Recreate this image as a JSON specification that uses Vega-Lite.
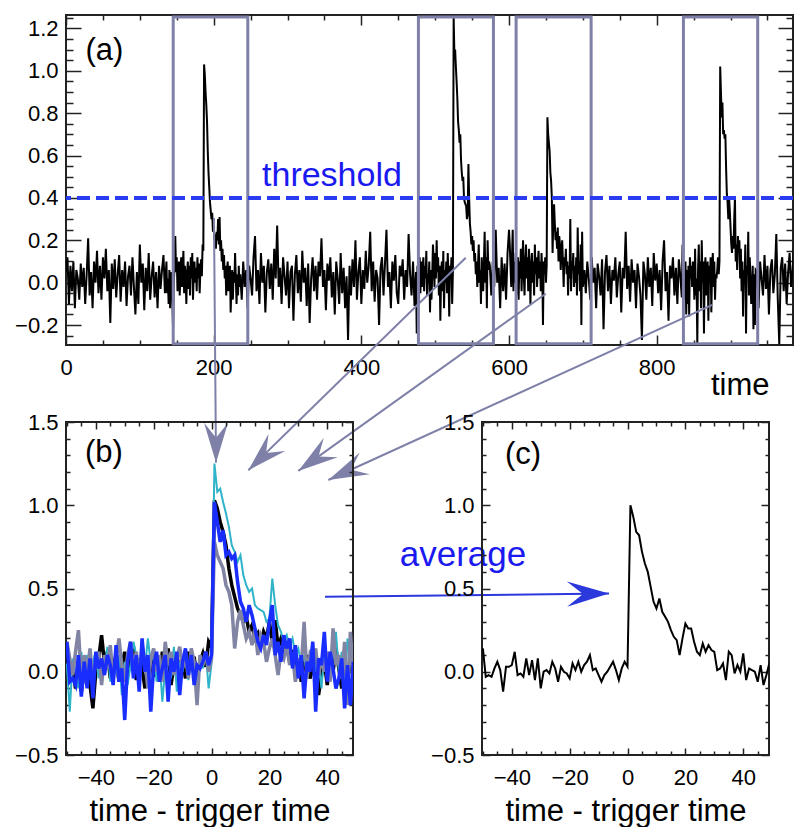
{
  "background": "white",
  "padding": {"left": 13, "top": 5, "right": 0, "bottom": 0},
  "autosize": {"type": "pad"},
  "config": {
    "font": "Liberation Sans",
    "view": {"stroke": "#222222", "strokeWidth": 2},
    "axis": {"domain": false, "grid": false, "labelFont": "Liberation Sans", "labelFontSize": 22, "labelColor": "#000000", "tickColor": "#222222", "tickWidth": 1.5, "titleFont": "Liberation Sans", "titleFontSize": 31, "titleFontWeight": "normal", "titleColor": "#000000", "labelFlush": false, "labelOverlap": false, "labelBound": false}
  },
  "datasets": {
    "series": [
      {"t":0,"v":0.05},{"t":2,"v":0.12},{"t":4,"v":-0.10},{"t":6,"v":0.08},{"t":8,"v":-0.04},{"t":10,"v":0.10},{"t":12,"v":-0.12},{"t":14,"v":0.06},{"t":16,"v":0.02},{"t":18,"v":-0.08},{"t":20,"v":0.09},{"t":22,"v":-0.02},{"t":24,"v":0.07},{"t":26,"v":-0.10},{"t":28,"v":0.04},{"t":30,"v":0.21},{"t":32,"v":-0.06},{"t":34,"v":0.05},{"t":36,"v":-0.12},{"t":38,"v":0.10},{"t":40,"v":0.00},{"t":42,"v":0.15},{"t":44,"v":-0.05},{"t":46,"v":0.08},{"t":48,"v":-0.08},{"t":50,"v":0.12},{"t":52,"v":0.02},{"t":54,"v":0.16},{"t":56,"v":-0.04},{"t":58,"v":0.06},{"t":60,"v":-0.19},{"t":62,"v":0.09},{"t":64,"v":-0.03},{"t":66,"v":0.11},{"t":68,"v":-0.07},{"t":70,"v":0.04},{"t":72,"v":0.13},{"t":74,"v":-0.09},{"t":76,"v":0.06},{"t":78,"v":-0.02},{"t":80,"v":0.10},{"t":82,"v":-0.11},{"t":84,"v":0.03},{"t":86,"v":0.08},{"t":88,"v":-0.06},{"t":90,"v":0.12},{"t":92,"v":-0.02},{"t":94,"v":-0.15},{"t":96,"v":0.05},{"t":98,"v":-0.10},{"t":100,"v":0.18},{"t":102,"v":0.00},{"t":104,"v":0.09},{"t":106,"v":-0.13},{"t":108,"v":0.07},{"t":110,"v":-0.04},{"t":112,"v":0.14},{"t":114,"v":-0.08},{"t":116,"v":0.03},{"t":118,"v":0.10},{"t":120,"v":-0.07},{"t":122,"v":0.05},{"t":124,"v":-0.12},{"t":126,"v":0.08},{"t":128,"v":-0.03},{"t":130,"v":0.06},{"t":132,"v":0.13},{"t":134,"v":-0.05},
      {"t":136,"d":-50,"s":"k","v":0.10},{"t":137,"d":-49,"s":"k","v":-0.05},{"t":138,"d":-48,"s":"k","v":0.02},{"t":139,"d":-47,"s":"k","v":-0.10},{"t":140,"d":-46,"s":"k","v":0.06},{"t":141,"d":-45,"s":"k","v":-0.12},{"t":142,"d":-44,"s":"k","v":0.00},{"t":143,"d":-43,"s":"k","v":0.05},{"t":144,"d":-42,"s":"k","v":-0.08},{"t":145,"d":-41,"s":"k","v":-0.22},
      {"t":146,"d":-40,"s":"k","v":0.00},{"t":147,"d":-39,"s":"k","v":0.08},{"t":148,"d":-38,"s":"k","v":0.22},{"t":149,"d":-37,"s":"k","v":0.05},{"t":150,"d":-36,"s":"k","v":0.12},{"t":151,"d":-35,"s":"k","v":-0.04},{"t":152,"d":-34,"s":"k","v":0.03},{"t":153,"d":-33,"s":"k","v":0.10},{"t":154,"d":-32,"s":"k","v":-0.06},{"t":155,"d":-31,"s":"k","v":0.04},
      {"t":156,"d":-30,"s":"k","v":0.12},{"t":157,"d":-29,"s":"k","v":-0.02},{"t":158,"d":-28,"s":"k","v":0.06},{"t":159,"d":-27,"s":"k","v":0.15},{"t":160,"d":-26,"s":"k","v":-0.05},{"t":161,"d":-25,"s":"k","v":0.08},{"t":162,"d":-24,"s":"k","v":0.02},{"t":163,"d":-23,"s":"k","v":-0.10},{"t":164,"d":-22,"s":"k","v":0.05},{"t":165,"d":-21,"s":"k","v":0.10},
      {"t":166,"d":-20,"s":"k","v":-0.03},{"t":167,"d":-19,"s":"k","v":0.08},{"t":168,"d":-18,"s":"k","v":-0.06},{"t":169,"d":-17,"s":"k","v":0.12},{"t":170,"d":-16,"s":"k","v":0.02},{"t":171,"d":-15,"s":"k","v":0.14},{"t":172,"d":-14,"s":"k","v":-0.08},{"t":173,"d":-13,"s":"k","v":0.04},{"t":174,"d":-12,"s":"k","v":0.10},{"t":175,"d":-11,"s":"k","v":0.00},
      {"t":176,"d":-10,"s":"k","v":0.07},{"t":177,"d":-9,"s":"k","v":-0.04},{"t":178,"d":-8,"s":"k","v":0.12},{"t":179,"d":-7,"s":"k","v":0.02},{"t":180,"d":-6,"s":"k","v":0.09},{"t":181,"d":-5,"s":"k","v":-0.05},{"t":182,"d":-4,"s":"k","v":0.06},{"t":183,"d":-3,"s":"k","v":0.11},{"t":184,"d":-2,"s":"k","v":0.03},{"t":185,"d":-1,"s":"k","v":0.18},
      {"t":186,"d":0,"s":"k","v":0.15},{"t":187,"d":1,"s":"k","v":1.03},{"t":188,"d":2,"s":"k","v":0.98},{"t":189,"d":3,"s":"k","v":0.90},{"t":190,"d":4,"s":"k","v":0.84},{"t":191,"d":5,"s":"k","v":0.76},{"t":192,"d":6,"s":"k","v":0.62},{"t":193,"d":7,"s":"k","v":0.52},{"t":194,"d":8,"s":"k","v":0.45},{"t":195,"d":9,"s":"k","v":0.38},
      {"t":196,"d":10,"s":"k","v":0.34},{"t":197,"d":11,"s":"k","v":0.30},{"t":198,"d":12,"s":"k","v":0.33},{"t":199,"d":13,"s":"k","v":0.24},{"t":200,"d":14,"s":"k","v":0.28},{"t":201,"d":15,"s":"k","v":0.20},{"t":202,"d":16,"s":"k","v":0.23},{"t":203,"d":17,"s":"k","v":0.16},{"t":204,"d":18,"s":"k","v":0.24},{"t":205,"d":19,"s":"k","v":0.20},
      {"t":206,"d":20,"s":"k","v":0.30},{"t":207,"d":21,"s":"k","v":0.18},{"t":208,"d":22,"s":"k","v":0.31},{"t":209,"d":23,"s":"k","v":0.15},{"t":210,"d":24,"s":"k","v":0.20},{"t":211,"d":25,"s":"k","v":0.10},{"t":212,"d":26,"s":"k","v":0.16},{"t":213,"d":27,"s":"k","v":0.06},{"t":214,"d":28,"s":"k","v":0.13},{"t":215,"d":29,"s":"k","v":0.02},
      {"t":216,"d":30,"s":"k","v":0.08},{"t":217,"d":31,"s":"k","v":-0.06},{"t":218,"d":32,"s":"k","v":0.05},{"t":219,"d":33,"s":"k","v":0.10},{"t":220,"d":34,"s":"k","v":-0.04},{"t":221,"d":35,"s":"k","v":0.02},{"t":222,"d":36,"s":"k","v":0.08},{"t":223,"d":37,"s":"k","v":-0.14},{"t":224,"d":38,"s":"k","v":-0.02},{"t":225,"d":39,"s":"k","v":0.06},
      {"t":226,"d":40,"s":"k","v":-0.08},{"t":227,"d":41,"s":"k","v":0.05},{"t":228,"d":42,"s":"k","v":0.00},{"t":229,"d":43,"s":"k","v":0.14},{"t":230,"d":44,"s":"k","v":0.02},{"t":231,"d":45,"s":"k","v":-0.10},{"t":232,"d":46,"s":"k","v":0.04},{"t":233,"d":47,"s":"k","v":-0.06},{"t":234,"d":48,"s":"k","v":0.08},{"t":235,"d":49,"s":"k","v":-0.02},
      {"t":236,"v":0.04},{"t":238,"v":-0.08},{"t":240,"v":0.10},{"t":242,"v":-0.02},{"t":244,"v":0.06},{"t":246,"v":-0.12},{"t":248,"v":0.08},{"t":250,"v":0.02},{"t":252,"v":-0.06},{"t":254,"v":0.12},{"t":256,"v":0.22},{"t":258,"v":-0.04},{"t":260,"v":0.06},{"t":262,"v":-0.10},{"t":264,"v":0.14},{"t":266,"v":0.00},{"t":268,"v":0.08},{"t":270,"v":-0.14},{"t":272,"v":0.05},{"t":274,"v":0.11},{"t":276,"v":-0.03},{"t":278,"v":0.09},{"t":280,"v":-0.08},{"t":282,"v":0.16},{"t":284,"v":0.02},{"t":286,"v":0.27},{"t":288,"v":-0.02},{"t":290,"v":0.07},{"t":292,"v":-0.10},{"t":294,"v":0.12},{"t":296,"v":0.03},{"t":298,"v":-0.06},{"t":300,"v":0.10},{"t":302,"v":-0.12},{"t":304,"v":0.05},{"t":306,"v":0.08},{"t":308,"v":-0.18},{"t":310,"v":0.04},{"t":312,"v":0.13},{"t":314,"v":-0.05},{"t":316,"v":0.06},{"t":318,"v":-0.09},{"t":320,"v":0.15},{"t":322,"v":0.00},{"t":324,"v":0.07},{"t":326,"v":-0.11},{"t":328,"v":0.09},{"t":330,"v":-0.19},{"t":332,"v":0.02},{"t":334,"v":0.12},{"t":336,"v":-0.04},{"t":338,"v":0.08},{"t":340,"v":-0.08},{"t":342,"v":0.10},{"t":344,"v":0.03},{"t":346,"v":0.21},{"t":348,"v":-0.02},{"t":350,"v":0.06},{"t":352,"v":-0.13},{"t":354,"v":0.09},{"t":356,"v":0.01},{"t":358,"v":0.12},{"t":360,"v":-0.07},{"t":362,"v":0.05},{"t":364,"v":-0.15},{"t":366,"v":0.10},{"t":368,"v":0.02},{"t":370,"v":-0.10},{"t":372,"v":0.14},{"t":374,"v":-0.05},{"t":376,"v":0.07},{"t":378,"v":-0.12},{"t":380,"v":0.03},{"t":382,"v":-0.27},{"t":384,"v":0.08},{"t":386,"v":-0.06},{"t":388,"v":0.11},{"t":390,"v":-0.02},{"t":392,"v":0.20},{"t":394,"v":-0.08},{"t":396,"v":0.05},{"t":398,"v":0.12},{"t":400,"v":-0.10},{"t":402,"v":0.06},{"t":404,"v":-0.03},{"t":406,"v":0.15},{"t":408,"v":0.00},{"t":410,"v":0.08},{"t":412,"v":0.24},{"t":414,"v":-0.04},{"t":416,"v":0.10},{"t":418,"v":-0.09},{"t":420,"v":0.06},{"t":422,"v":0.02},{"t":424,"v":-0.20},{"t":426,"v":0.07},{"t":428,"v":0.12},{"t":430,"v":-0.06},{"t":432,"v":0.09},{"t":434,"v":0.25},{"t":436,"v":-0.02},{"t":438,"v":0.05},{"t":440,"v":-0.12},{"t":442,"v":0.10},{"t":444,"v":0.01},{"t":446,"v":0.13},{"t":448,"v":-0.05},{"t":450,"v":-0.10},{"t":452,"v":0.08},{"t":454,"v":0.03},{"t":456,"v":0.11},{"t":458,"v":-0.08},{"t":460,"v":0.06},{"t":462,"v":-0.02},{"t":464,"v":0.23},{"t":466,"v":0.04},{"t":468,"v":-0.06},{"t":470,"v":0.10},{"t":472,"v":-0.11},
      {"t":474,"d":-50,"s":"c","v":0.05},{"t":475,"d":-49,"s":"c","v":-0.24},{"t":476,"d":-48,"s":"c","v":0.08},{"t":477,"d":-47,"s":"c","v":0.00},{"t":478,"d":-46,"s":"c","v":-0.10},{"t":479,"d":-45,"s":"c","v":0.12},{"t":480,"d":-44,"s":"c","v":-0.05},{"t":481,"d":-43,"s":"c","v":0.10},{"t":482,"d":-42,"s":"c","v":-0.02},{"t":483,"d":-41,"s":"c","v":0.06},
      {"t":484,"d":-40,"s":"c","v":0.12},{"t":485,"d":-39,"s":"c","v":-0.04},{"t":486,"d":-38,"s":"c","v":0.08},{"t":487,"d":-37,"s":"c","v":0.02},{"t":488,"d":-36,"s":"c","v":0.15},{"t":489,"d":-35,"s":"c","v":-0.06},{"t":490,"d":-34,"s":"c","v":0.04},{"t":491,"d":-33,"s":"c","v":0.00},{"t":492,"d":-32,"s":"c","v":0.10},{"t":493,"d":-31,"s":"c","v":-0.14},
      {"t":494,"d":-30,"s":"c","v":0.06},{"t":495,"d":-29,"s":"c","v":-0.08},{"t":496,"d":-28,"s":"c","v":0.04},{"t":497,"d":-27,"s":"c","v":0.18},{"t":498,"d":-26,"s":"c","v":0.10},{"t":499,"d":-25,"s":"c","v":-0.02},{"t":500,"d":-24,"s":"c","v":0.14},{"t":501,"d":-23,"s":"c","v":0.02},{"t":502,"d":-22,"s":"c","v":0.20},{"t":503,"d":-21,"s":"c","v":0.05},
      {"t":504,"d":-20,"s":"c","v":0.12},{"t":505,"d":-19,"s":"c","v":-0.06},{"t":506,"d":-18,"s":"c","v":0.08},{"t":507,"d":-17,"s":"c","v":-0.18},{"t":508,"d":-16,"s":"c","v":0.02},{"t":509,"d":-15,"s":"c","v":0.10},{"t":510,"d":-14,"s":"c","v":-0.04},{"t":511,"d":-13,"s":"c","v":0.15},{"t":512,"d":-12,"s":"c","v":-0.12},{"t":513,"d":-11,"s":"c","v":0.06},
      {"t":514,"d":-10,"s":"c","v":0.00},{"t":515,"d":-9,"s":"c","v":0.10},{"t":516,"d":-8,"s":"c","v":-0.05},{"t":517,"d":-7,"s":"c","v":0.14},{"t":518,"d":-6,"s":"c","v":0.04},{"t":519,"d":-5,"s":"c","v":-0.16},{"t":520,"d":-4,"s":"c","v":0.08},{"t":521,"d":-3,"s":"c","v":0.02},{"t":522,"d":-2,"s":"c","v":0.12},{"t":523,"d":-1,"s":"c","v":-0.10},
      {"t":524,"d":0,"s":"c","v":0.05},{"t":525,"d":1,"s":"c","v":1.25},{"t":526,"d":2,"s":"c","v":1.08},{"t":527,"d":3,"s":"c","v":1.10},{"t":528,"d":4,"s":"c","v":1.02},{"t":529,"d":5,"s":"c","v":0.95},{"t":530,"d":6,"s":"c","v":0.87},{"t":531,"d":7,"s":"c","v":0.76},{"t":532,"d":8,"s":"c","v":0.72},{"t":533,"d":9,"s":"c","v":0.66},
      {"t":534,"d":10,"s":"c","v":0.70},{"t":535,"d":11,"s":"c","v":0.58},{"t":536,"d":12,"s":"c","v":0.52},{"t":537,"d":13,"s":"c","v":0.48},{"t":538,"d":14,"s":"c","v":0.50},{"t":539,"d":15,"s":"c","v":0.40},{"t":540,"d":16,"s":"c","v":0.38},{"t":541,"d":17,"s":"c","v":0.37},{"t":542,"d":18,"s":"c","v":0.36},{"t":543,"d":19,"s":"c","v":0.30},
      {"t":544,"d":20,"s":"c","v":0.32},{"t":545,"d":21,"s":"c","v":0.56},{"t":546,"d":22,"s":"c","v":0.40},{"t":547,"d":23,"s":"c","v":0.28},{"t":548,"d":24,"s":"c","v":0.24},{"t":549,"d":25,"s":"c","v":0.18},{"t":550,"d":26,"s":"c","v":0.22},{"t":551,"d":27,"s":"c","v":0.15},{"t":552,"d":28,"s":"c","v":0.20},{"t":553,"d":29,"s":"c","v":0.10},
      {"t":554,"d":30,"s":"c","v":0.14},{"t":555,"d":31,"s":"c","v":0.04},{"t":556,"d":32,"s":"c","v":0.10},{"t":557,"d":33,"s":"c","v":-0.02},{"t":558,"d":34,"s":"c","v":0.08},{"t":559,"d":35,"s":"c","v":0.18},{"t":560,"d":36,"s":"c","v":0.00},{"t":561,"d":37,"s":"c","v":0.06},{"t":562,"d":38,"s":"c","v":-0.10},{"t":563,"d":39,"s":"c","v":0.12},
      {"t":564,"d":40,"s":"c","v":0.02},{"t":565,"d":41,"s":"c","v":-0.04},{"t":566,"d":42,"s":"c","v":0.10},{"t":567,"d":43,"s":"c","v":0.24},{"t":568,"d":44,"s":"c","v":0.00},{"t":569,"d":45,"s":"c","v":0.12},{"t":570,"d":46,"s":"c","v":-0.12},{"t":571,"d":47,"s":"c","v":0.20},{"t":572,"d":48,"s":"c","v":0.06},{"t":573,"d":49,"s":"c","v":0.10},
      {"t":574,"v":0.08},{"t":576,"v":-0.06},{"t":578,"v":0.10},{"t":580,"v":-0.02},{"t":582,"v":0.25},{"t":584,"v":0.00},{"t":586,"v":0.07},{"t":588,"v":-0.12},{"t":590,"v":0.12},{"t":592,"v":-0.04},{"t":594,"v":0.09},{"t":596,"v":-0.08},{"t":598,"v":0.14},{"t":600,"v":0.25},
      {"t":601,"d":-50,"s":"g","v":0.18},{"t":602,"d":-49,"s":"g","v":0.08},{"t":603,"d":-48,"s":"g","v":-0.02},{"t":604,"d":-47,"s":"g","v":0.12},{"t":605,"d":-46,"s":"g","v":0.25},{"t":606,"d":-45,"s":"g","v":-0.04},{"t":607,"d":-44,"s":"g","v":0.10},{"t":608,"d":-43,"s":"g","v":0.00},{"t":609,"d":-42,"s":"g","v":0.14},{"t":610,"d":-41,"s":"g","v":-0.06},
      {"t":611,"d":-40,"s":"g","v":0.06},{"t":612,"d":-39,"s":"g","v":0.12},{"t":613,"d":-38,"s":"g","v":-0.08},{"t":614,"d":-37,"s":"g","v":0.10},{"t":615,"d":-36,"s":"g","v":0.02},{"t":616,"d":-35,"s":"g","v":0.16},{"t":617,"d":-34,"s":"g","v":-0.04},{"t":618,"d":-33,"s":"g","v":0.08},{"t":619,"d":-32,"s":"g","v":0.20},{"t":620,"d":-31,"s":"g","v":0.04},
      {"t":621,"d":-30,"s":"g","v":-0.06},{"t":622,"d":-29,"s":"g","v":0.10},{"t":623,"d":-28,"s":"g","v":0.18},{"t":624,"d":-27,"s":"g","v":0.02},{"t":625,"d":-26,"s":"g","v":0.12},{"t":626,"d":-25,"s":"g","v":-0.04},{"t":627,"d":-24,"s":"g","v":0.16},{"t":628,"d":-23,"s":"g","v":0.06},{"t":629,"d":-22,"s":"g","v":-0.10},{"t":630,"d":-21,"s":"g","v":0.08},
      {"t":631,"d":-20,"s":"g","v":0.14},{"t":632,"d":-19,"s":"g","v":0.00},{"t":633,"d":-18,"s":"g","v":0.10},{"t":634,"d":-17,"s":"g","v":-0.06},{"t":635,"d":-16,"s":"g","v":0.18},{"t":636,"d":-15,"s":"g","v":0.04},{"t":637,"d":-14,"s":"g","v":0.12},{"t":638,"d":-13,"s":"g","v":-0.02},{"t":639,"d":-12,"s":"g","v":0.08},{"t":640,"d":-11,"s":"g","v":0.15},
      {"t":641,"d":-10,"s":"g","v":0.02},{"t":642,"d":-9,"s":"g","v":0.10},{"t":643,"d":-8,"s":"g","v":-0.04},{"t":644,"d":-7,"s":"g","v":0.14},{"t":645,"d":-6,"s":"g","v":0.06},{"t":646,"d":-5,"s":"g","v":-0.20},{"t":647,"d":-4,"s":"g","v":0.10},{"t":648,"d":-3,"s":"g","v":0.04},{"t":649,"d":-2,"s":"g","v":0.12},{"t":650,"d":-1,"s":"g","v":0.00},
      {"t":651,"d":0,"s":"g","v":0.08},{"t":652,"d":1,"s":"g","v":0.78},{"t":653,"d":2,"s":"g","v":0.70},{"t":654,"d":3,"s":"g","v":0.66},{"t":655,"d":4,"s":"g","v":0.62},{"t":656,"d":5,"s":"g","v":0.52},{"t":657,"d":6,"s":"g","v":0.48},{"t":658,"d":7,"s":"g","v":0.40},{"t":659,"d":8,"s":"g","v":0.14},{"t":660,"d":9,"s":"g","v":0.30},
      {"t":661,"d":10,"s":"g","v":0.37},{"t":662,"d":11,"s":"g","v":0.28},{"t":663,"d":12,"s":"g","v":0.20},{"t":664,"d":13,"s":"g","v":0.24},{"t":665,"d":14,"s":"g","v":0.16},{"t":666,"d":15,"s":"g","v":0.26},{"t":667,"d":16,"s":"g","v":0.10},{"t":668,"d":17,"s":"g","v":0.22},{"t":669,"d":18,"s":"g","v":0.18},{"t":670,"d":19,"s":"g","v":0.06},
      {"t":671,"d":20,"s":"g","v":0.14},{"t":672,"d":21,"s":"g","v":0.20},{"t":673,"d":22,"s":"g","v":0.10},{"t":674,"d":23,"s":"g","v":-0.02},{"t":675,"d":24,"s":"g","v":0.12},{"t":676,"d":25,"s":"g","v":0.08},{"t":677,"d":26,"s":"g","v":0.16},{"t":678,"d":27,"s":"g","v":0.04},{"t":679,"d":28,"s":"g","v":0.10},{"t":680,"d":29,"s":"g","v":-0.06},
      {"t":681,"d":30,"s":"g","v":0.08},{"t":682,"d":31,"s":"g","v":0.02},{"t":683,"d":32,"s":"g","v":0.30},{"t":684,"d":33,"s":"g","v":-0.04},{"t":685,"d":34,"s":"g","v":0.10},{"t":686,"d":35,"s":"g","v":0.06},{"t":687,"d":36,"s":"g","v":0.14},{"t":688,"d":37,"s":"g","v":-0.02},{"t":689,"d":38,"s":"g","v":0.08},{"t":690,"d":39,"s":"g","v":0.00},
      {"t":691,"d":40,"s":"g","v":0.12},{"t":692,"d":41,"s":"g","v":-0.06},{"t":693,"d":42,"s":"g","v":0.26},{"t":694,"d":43,"s":"g","v":0.04},{"t":695,"d":44,"s":"g","v":0.10},{"t":696,"d":45,"s":"g","v":-0.04},{"t":697,"d":46,"s":"g","v":0.18},{"t":698,"d":47,"s":"g","v":-0.20},{"t":699,"d":48,"s":"g","v":0.24},{"t":700,"d":49,"s":"g","v":-0.02},
      {"t":702,"v":0.06},{"t":704,"v":-0.05},{"t":706,"v":0.10},{"t":708,"v":0.02},{"t":710,"v":-0.08},{"t":712,"v":0.12},{"t":714,"v":0.00},{"t":716,"v":0.07},{"t":718,"v":-0.12},{"t":720,"v":0.09},{"t":722,"v":0.03},{"t":724,"v":-0.06},{"t":726,"v":0.11},{"t":728,"v":-0.22},{"t":730,"v":0.05},{"t":732,"v":0.13},{"t":734,"v":-0.04},{"t":736,"v":0.08},{"t":738,"v":-0.10},{"t":740,"v":0.06},{"t":742,"v":0.01},{"t":744,"v":0.12},{"t":746,"v":-0.07},{"t":748,"v":0.04},{"t":750,"v":0.10},{"t":752,"v":-0.14},{"t":754,"v":0.07},{"t":756,"v":0.02},{"t":758,"v":0.24},{"t":760,"v":-0.03},{"t":762,"v":0.08},{"t":764,"v":-0.09},{"t":766,"v":0.11},{"t":768,"v":0.00},{"t":770,"v":0.06},{"t":772,"v":-0.12},{"t":774,"v":0.09},{"t":776,"v":0.03},{"t":778,"v":-0.06},{"t":780,"v":-0.27},{"t":782,"v":0.10},{"t":784,"v":0.04},{"t":786,"v":-0.08},{"t":788,"v":0.12},{"t":790,"v":-0.02},{"t":792,"v":0.07},{"t":794,"v":-0.11},{"t":796,"v":0.14},{"t":798,"v":0.01},{"t":800,"v":0.09},{"t":802,"v":-0.05},{"t":804,"v":0.06},{"t":806,"v":-0.13},{"t":808,"v":0.10},{"t":810,"v":0.20},{"t":812,"v":-0.04},{"t":814,"v":0.05},{"t":816,"v":-0.18},{"t":818,"v":0.08},{"t":820,"v":0.02},{"t":822,"v":0.12},{"t":824,"v":-0.06},{"t":826,"v":0.07},{"t":828,"v":-0.10},{"t":830,"v":0.11},{"t":832,"v":0.03},{"t":834,"v":-0.07},
      {"t":835,"d":-50,"s":"b","v":0.18},{"t":836,"d":-49,"s":"b","v":-0.06},{"t":837,"d":-48,"s":"b","v":-0.04},{"t":838,"d":-47,"s":"b","v":-0.08},{"t":839,"d":-46,"s":"b","v":0.10},{"t":840,"d":-45,"s":"b","v":-0.15},{"t":841,"d":-44,"s":"b","v":0.06},{"t":842,"d":-43,"s":"b","v":-0.10},{"t":843,"d":-42,"s":"b","v":0.08},{"t":844,"d":-41,"s":"b","v":-0.16},
      {"t":845,"d":-40,"s":"b","v":0.12},{"t":846,"d":-39,"s":"b","v":0.02},{"t":847,"d":-38,"s":"b","v":0.08},{"t":848,"d":-37,"s":"b","v":-0.02},{"t":849,"d":-36,"s":"b","v":0.10},{"t":850,"d":-35,"s":"b","v":0.04},{"t":851,"d":-34,"s":"b","v":-0.08},{"t":852,"d":-33,"s":"b","v":0.16},{"t":853,"d":-32,"s":"b","v":-0.06},{"t":854,"d":-31,"s":"b","v":0.02},
      {"t":855,"d":-30,"s":"b","v":-0.29},{"t":856,"d":-29,"s":"b","v":0.06},{"t":857,"d":-28,"s":"b","v":0.18},{"t":858,"d":-27,"s":"b","v":-0.04},{"t":859,"d":-26,"s":"b","v":0.10},{"t":860,"d":-25,"s":"b","v":-0.12},{"t":861,"d":-24,"s":"b","v":0.20},{"t":862,"d":-23,"s":"b","v":0.00},{"t":863,"d":-22,"s":"b","v":0.10},{"t":864,"d":-21,"s":"b","v":-0.24},
      {"t":865,"d":-20,"s":"b","v":0.04},{"t":866,"d":-19,"s":"b","v":0.12},{"t":867,"d":-18,"s":"b","v":-0.06},{"t":868,"d":-17,"s":"b","v":0.02},{"t":869,"d":-16,"s":"b","v":0.10},{"t":870,"d":-15,"s":"b","v":-0.18},{"t":871,"d":-14,"s":"b","v":0.08},{"t":872,"d":-13,"s":"b","v":0.00},{"t":873,"d":-12,"s":"b","v":0.12},{"t":874,"d":-11,"s":"b","v":-0.14},
      {"t":875,"d":-10,"s":"b","v":0.06},{"t":876,"d":-9,"s":"b","v":0.14},{"t":877,"d":-8,"s":"b","v":-0.02},{"t":878,"d":-7,"s":"b","v":0.10},{"t":879,"d":-6,"s":"b","v":-0.08},{"t":880,"d":-5,"s":"b","v":0.04},{"t":881,"d":-4,"s":"b","v":0.02},{"t":882,"d":-3,"s":"b","v":0.06},{"t":883,"d":-2,"s":"b","v":0.12},{"t":884,"d":-1,"s":"b","v":0.04},
      {"t":885,"d":0,"s":"b","v":0.10},{"t":886,"d":1,"s":"b","v":1.02},{"t":887,"d":2,"s":"b","v":0.90},{"t":888,"d":3,"s":"b","v":0.78},{"t":889,"d":4,"s":"b","v":0.85},{"t":890,"d":5,"s":"b","v":0.70},{"t":891,"d":6,"s":"b","v":0.72},{"t":892,"d":7,"s":"b","v":0.68},{"t":893,"d":8,"s":"b","v":0.70},{"t":894,"d":9,"s":"b","v":0.54},
      {"t":895,"d":10,"s":"b","v":0.42},{"t":896,"d":11,"s":"b","v":0.38},{"t":897,"d":12,"s":"b","v":0.30},{"t":898,"d":13,"s":"b","v":0.40},{"t":899,"d":14,"s":"b","v":0.34},{"t":900,"d":15,"s":"b","v":0.26},{"t":901,"d":16,"s":"b","v":0.18},{"t":902,"d":17,"s":"b","v":0.14},{"t":903,"d":18,"s":"b","v":0.22},{"t":904,"d":19,"s":"b","v":0.16},
      {"t":905,"d":20,"s":"b","v":0.30},{"t":906,"d":21,"s":"b","v":0.40},{"t":907,"d":22,"s":"b","v":0.10},{"t":908,"d":23,"s":"b","v":0.18},{"t":909,"d":24,"s":"b","v":0.06},{"t":910,"d":25,"s":"b","v":0.22},{"t":911,"d":26,"s":"b","v":0.14},{"t":912,"d":27,"s":"b","v":0.20},{"t":913,"d":28,"s":"b","v":0.02},{"t":914,"d":29,"s":"b","v":0.16},
      {"t":915,"d":30,"s":"b","v":-0.04},{"t":916,"d":31,"s":"b","v":0.10},{"t":917,"d":32,"s":"b","v":-0.16},{"t":918,"d":33,"s":"b","v":0.06},{"t":919,"d":34,"s":"b","v":0.00},{"t":920,"d":35,"s":"b","v":0.18},{"t":921,"d":36,"s":"b","v":-0.24},{"t":922,"d":37,"s":"b","v":0.08},{"t":923,"d":38,"s":"b","v":0.04},{"t":924,"d":39,"s":"b","v":0.24},
      {"t":925,"d":40,"s":"b","v":-0.06},{"t":926,"d":41,"s":"b","v":0.12},{"t":927,"d":42,"s":"b","v":0.02},{"t":928,"d":43,"s":"b","v":-0.10},{"t":929,"d":44,"s":"b","v":-0.04},{"t":930,"d":45,"s":"b","v":0.08},{"t":931,"d":46,"s":"b","v":-0.22},{"t":932,"d":47,"s":"b","v":0.04},{"t":933,"d":48,"s":"b","v":-0.20},{"t":934,"d":49,"s":"b","v":0.06},
      {"t":936,"v":0.05},{"t":938,"v":-0.12},{"t":940,"v":0.10},{"t":942,"v":0.02},{"t":944,"v":-0.06},{"t":946,"v":0.13},{"t":948,"v":-0.03},{"t":950,"v":0.08},{"t":952,"v":-0.15},{"t":954,"v":0.06},{"t":956,"v":0.11},{"t":958,"v":-0.05},{"t":960,"v":0.04},{"t":962,"v":0.23},{"t":964,"v":-0.08},{"t":966,"v":-0.29},{"t":968,"v":0.07},{"t":970,"v":0.12},{"t":972,"v":-0.04},{"t":974,"v":0.09},{"t":976,"v":-0.10},{"t":978,"v":0.05},{"t":980,"v":0.14},{"t":982,"v":-0.02},{"t":984,"v":0.06},{"t":986,"v":0.18},{"t":988,"v":-0.07},{"t":990,"v":0.04}
    ],
    "avg": [
      {"d":-50,"v":0.14},{"d":-49,"v":-0.03},{"d":-48,"v":-0.02},{"d":-47,"v":-0.03},{"d":-46,"v":0.02},{"d":-45,"v":0.06},{"d":-44,"v":0.01},{"d":-43,"v":-0.12},{"d":-42,"v":0.03},{"d":-41,"v":0.03},
      {"d":-40,"v":0.04},{"d":-39,"v":0.12},{"d":-38,"v":-0.02},{"d":-37,"v":-0.01},{"d":-36,"v":-0.03},{"d":-35,"v":0.08},{"d":-34,"v":-0.02},{"d":-33,"v":0.07},{"d":-32,"v":-0.05},{"d":-31,"v":0.08},
      {"d":-30,"v":-0.10},{"d":-29,"v":0.00},{"d":-28,"v":0.01},{"d":-27,"v":-0.01},{"d":-26,"v":0.06},{"d":-25,"v":0.02},{"d":-24,"v":-0.06},{"d":-23,"v":0.03},{"d":-22,"v":0.00},{"d":-21,"v":-0.01},
      {"d":-20,"v":-0.04},{"d":-19,"v":0.05},{"d":-18,"v":0.01},{"d":-17,"v":0.06},{"d":-16,"v":0.00},{"d":-15,"v":0.04},{"d":-14,"v":0.06},{"d":-13,"v":0.10},{"d":-12,"v":0.01},{"d":-11,"v":0.02},
      {"d":-10,"v":-0.02},{"d":-9,"v":-0.06},{"d":-8,"v":-0.02},{"d":-7,"v":0.00},{"d":-6,"v":0.03},{"d":-5,"v":0.06},{"d":-4,"v":0.01},{"d":-3,"v":-0.05},{"d":-2,"v":0.02},{"d":-1,"v":0.06},
      {"d":0,"v":0.03},{"d":1,"v":1.00},{"d":2,"v":0.93},{"d":3,"v":0.84},{"d":4,"v":0.82},{"d":5,"v":0.72},{"d":6,"v":0.65},{"d":7,"v":0.60},{"d":8,"v":0.51},{"d":9,"v":0.42},
      {"d":10,"v":0.38},{"d":11,"v":0.44},{"d":12,"v":0.36},{"d":13,"v":0.33},{"d":14,"v":0.30},{"d":15,"v":0.25},{"d":16,"v":0.21},{"d":17,"v":0.19},{"d":18,"v":0.10},{"d":19,"v":0.20},
      {"d":20,"v":0.29},{"d":21,"v":0.26},{"d":22,"v":0.26},{"d":23,"v":0.18},{"d":24,"v":0.12},{"d":25,"v":0.10},{"d":26,"v":0.17},{"d":27,"v":0.12},{"d":28,"v":0.16},{"d":29,"v":0.13},
      {"d":30,"v":0.12},{"d":31,"v":0.01},{"d":32,"v":0.02},{"d":33,"v":0.05},{"d":34,"v":-0.05},{"d":35,"v":0.12},{"d":36,"v":0.10},{"d":37,"v":-0.01},{"d":38,"v":0.04},{"d":39,"v":0.00},
      {"d":40,"v":0.11},{"d":41,"v":-0.05},{"d":42,"v":0.02},{"d":43,"v":0.01},{"d":44,"v":0.00},{"d":45,"v":-0.06},{"d":46,"v":0.04},{"d":47,"v":-0.08},{"d":48,"v":-0.02},{"d":49,"v":0.05}
    ],
    "boxes": [
      {"x1":145.2,"x2":246.2,"y1":-0.288,"y2":1.253},
      {"x1":477.3,"x2":578.9,"y1":-0.288,"y2":1.253},
      {"x1":609.6,"x2":711.2,"y1":-0.288,"y2":1.253},
      {"x1":836.2,"x2":936.8,"y1":-0.288,"y2":1.253}
    ],
    "arrows": [
      {"id":"a1","t":200.4,"v":0.305},{"id":"a1","t":203.2,"v":-0.849},
      {"id":"a2","t":541.4,"v":0.118},{"id":"a2","t":246.9,"v":-0.885},
      {"id":"a3","t":649.7,"v":-0.052},{"id":"a3","t":314.6,"v":-0.888},
      {"id":"a4","t":875.3,"v":-0.105},{"id":"a4","t":355.3,"v":-0.931}
    ]
  },
  "bounds": "flush",
  "spacing": 77,
  "vconcat": [
    {
      "width": 727,
      "height": 330,
      "resolve": {"axis": {"x": "independent", "y": "independent"}},
      "layer": [
        {
          "data": {"name": "series"},
          "mark": {"type": "line", "color": "#000000", "strokeWidth": 2, "clip": true},
          "encoding": {
            "x": {"field": "t", "type": "quantitative", "scale": {"domain": [0, 984.6], "nice": false, "zero": false},
              "axis": {"orient": "bottom", "values": [0,50,100,150,200,250,300,350,400,450,500,550,600,650,700,750,800,850,900,950], "format": "d", "labelExpr": "datum.value % 200 === 0 ? datum.label : ''", "tickSize": {"condition": {"test": "datum.value % 200 === 0", "value": -10}, "value": -5}, "labelPadding": 22, "title": "time", "titleAnchor": "end", "titleAlign": "right", "titleBaseline": "alphabetic", "titleX": 703, "titleY": 49}},
            "y": {"field": "v", "type": "quantitative", "scale": {"domain": [-0.294, 1.263], "nice": false, "zero": false},
              "axis": {"orient": "left", "values": [-0.25,-0.2,-0.15,-0.1,-0.05,0,0.05,0.1,0.15,0.2,0.25,0.3,0.35,0.4,0.45,0.5,0.55,0.6,0.65,0.7,0.75,0.8,0.85,0.9,0.95,1,1.05,1.1,1.15,1.2,1.25], "format": ".1f", "labelExpr": "abs(datum.value*5-round(datum.value*5)) < 0.001 ? datum.label : ''", "tickSize": {"condition": {"test": "abs(datum.value*5-round(datum.value*5)) < 0.001", "value": -15}, "value": -7}, "labelPadding": 23, "title": null}}
          }
        },
        {
          "data": {"name": "boxes"},
          "mark": {"type": "rect", "fill": null, "stroke": "#7e80a8", "strokeWidth": 3, "clip": false},
          "encoding": {
            "x": {"field": "x1", "type": "quantitative", "scale": {"domain": [0, 984.6], "nice": false, "zero": false},
              "axis": {"orient": "top", "values": [0,50,100,150,200,250,300,350,400,450,500,550,600,650,700,750,800,850,900,950], "labels": false, "tickSize": {"condition": {"test": "datum.value % 200 === 0", "value": -10}, "value": -5}, "title": null}},
            "x2": {"field": "x2"},
            "y": {"field": "y1", "type": "quantitative", "scale": {"domain": [-0.294, 1.263], "nice": false, "zero": false},
              "axis": {"orient": "right", "values": [-0.25,-0.2,-0.15,-0.1,-0.05,0,0.05,0.1,0.15,0.2,0.25,0.3,0.35,0.4,0.45,0.5,0.55,0.6,0.65,0.7,0.75,0.8,0.85,0.9,0.95,1,1.05,1.1,1.15,1.2,1.25], "labels": false, "tickSize": {"condition": {"test": "abs(datum.value*5-round(datum.value*5)) < 0.001", "value": -15}, "value": -7}, "title": null}},
            "y2": {"field": "y2"}
          }
        },
        {
          "data": {"values": [{"v": 0.4}]},
          "mark": {"type": "rule", "color": "#2a3cf2", "strokeWidth": 4, "strokeDash": [13, 6]},
          "encoding": {
            "y": {"field": "v", "type": "quantitative", "scale": {"domain": [-0.294, 1.263], "nice": false, "zero": false}, "axis": null}
          }
        },
        {
          "data": {"name": "arrows"},
          "mark": {"type": "line", "color": "#7e80a8", "strokeWidth": 2, "clip": false},
          "encoding": {
            "x": {"field": "t", "type": "quantitative", "scale": {"domain": [0, 984.6], "nice": false, "zero": false}, "axis": null},
            "y": {"field": "v", "type": "quantitative", "scale": {"domain": [-0.294, 1.263], "nice": false, "zero": false}, "axis": null},
            "detail": {"field": "id"}
          }
        },
        {
          "data": {"values": [{"t": 350.8, "v": -1.4815}, {"t": 735.4, "v": -1.467}]},
          "mark": {"type": "line", "color": "#2b38dc", "strokeWidth": 2, "clip": false},
          "encoding": {
            "x": {"field": "t", "type": "quantitative", "scale": {"domain": [0, 984.6], "nice": false, "zero": false}, "axis": null},
            "y": {"field": "v", "type": "quantitative", "scale": {"domain": [-0.294, 1.263], "nice": false, "zero": false}, "axis": null}
          }
        },
        {
          "data": {"values": [{"t": 203.2, "v": -0.849}]},
          "mark": {"type": "point", "shape": "M0,0L0.3,1L0,0.62L-0.3,1Z", "filled": true, "color": "#7e80a8", "opacity": 1, "size": 6400, "angle": 180, "strokeWidth": 0, "clip": false},
          "encoding": {
            "x": {"field": "t", "type": "quantitative", "scale": {"domain": [0, 984.6], "nice": false, "zero": false}, "axis": null},
            "y": {"field": "v", "type": "quantitative", "scale": {"domain": [-0.294, 1.263], "nice": false, "zero": false}, "axis": null}
          }
        },
        {
          "data": {"values": [{"t": 246.9, "v": -0.885}]},
          "mark": {"type": "point", "shape": "M0,0L0.3,1L0,0.62L-0.3,1Z", "filled": true, "color": "#7e80a8", "opacity": 1, "size": 6400, "angle": 225.7, "strokeWidth": 0, "clip": false},
          "encoding": {
            "x": {"field": "t", "type": "quantitative", "scale": {"domain": [0, 984.6], "nice": false, "zero": false}, "axis": null},
            "y": {"field": "v", "type": "quantitative", "scale": {"domain": [-0.294, 1.263], "nice": false, "zero": false}, "axis": null}
          }
        },
        {
          "data": {"values": [{"t": 314.6, "v": -0.888}]},
          "mark": {"type": "point", "shape": "M0,0L0.3,1L0,0.62L-0.3,1Z", "filled": true, "color": "#7e80a8", "opacity": 1, "size": 6400, "angle": 234.4, "strokeWidth": 0, "clip": false},
          "encoding": {
            "x": {"field": "t", "type": "quantitative", "scale": {"domain": [0, 984.6], "nice": false, "zero": false}, "axis": null},
            "y": {"field": "v", "type": "quantitative", "scale": {"domain": [-0.294, 1.263], "nice": false, "zero": false}, "axis": null}
          }
        },
        {
          "data": {"values": [{"t": 355.3, "v": -0.931}]},
          "mark": {"type": "point", "shape": "M0,0L0.3,1L0,0.62L-0.3,1Z", "filled": true, "color": "#7e80a8", "opacity": 1, "size": 6400, "angle": 245.5, "strokeWidth": 0, "clip": false},
          "encoding": {
            "x": {"field": "t", "type": "quantitative", "scale": {"domain": [0, 984.6], "nice": false, "zero": false}, "axis": null},
            "y": {"field": "v", "type": "quantitative", "scale": {"domain": [-0.294, 1.263], "nice": false, "zero": false}, "axis": null}
          }
        },
        {
          "data": {"values": [{"t": 735.4, "v": -1.467}]},
          "mark": {"type": "point", "shape": "M0,0L0.3,1L0,0.62L-0.3,1Z", "filled": true, "color": "#2b38dc", "opacity": 1, "size": 7056, "angle": 89.4, "strokeWidth": 0, "clip": false},
          "encoding": {
            "x": {"field": "t", "type": "quantitative", "scale": {"domain": [0, 984.6], "nice": false, "zero": false}, "axis": null},
            "y": {"field": "v", "type": "quantitative", "scale": {"domain": [-0.294, 1.263], "nice": false, "zero": false}, "axis": null}
          }
        },
        {
          "data": {"values": [{"t": 51.9, "v": 1.093, "label": "(a)"}]},
          "mark": {"type": "text", "fontSize": 31, "color": "#000000", "align": "center", "baseline": "middle", "clip": false},
          "encoding": {
            "x": {"field": "t", "type": "quantitative", "scale": {"domain": [0, 984.6], "nice": false, "zero": false}, "axis": null},
            "y": {"field": "v", "type": "quantitative", "scale": {"domain": [-0.294, 1.263], "nice": false, "zero": false}, "axis": null},
            "text": {"field": "label"}
          }
        },
        {
          "data": {"values": [{"t": 265.5, "v": 0.456, "label": "threshold"}]},
          "mark": {"type": "text", "fontSize": 34, "color": "#1a1af0", "align": "left", "baseline": "alphabetic", "clip": false},
          "encoding": {
            "x": {"field": "t", "type": "quantitative", "scale": {"domain": [0, 984.6], "nice": false, "zero": false}, "axis": null},
            "y": {"field": "v", "type": "quantitative", "scale": {"domain": [-0.294, 1.263], "nice": false, "zero": false}, "axis": null},
            "text": {"field": "label"}
          }
        },
        {
          "data": {"values": [{"t": 537.7, "v": -1.337, "label": "average"}]},
          "mark": {"type": "text", "fontSize": 35, "color": "#1a1af0", "align": "center", "baseline": "alphabetic", "clip": false},
          "encoding": {
            "x": {"field": "t", "type": "quantitative", "scale": {"domain": [0, 984.6], "nice": false, "zero": false}, "axis": null},
            "y": {"field": "v", "type": "quantitative", "scale": {"domain": [-0.294, 1.263], "nice": false, "zero": false}, "axis": null},
            "text": {"field": "label"}
          }
        }
      ]
    },
    {
      "bounds": "flush",
      "spacing": 129,
      "hconcat": [
        {
          "width": 287,
          "height": 333,
          "resolve": {"axis": {"x": "independent", "y": "independent"}},
          "layer": [
            {
              "data": {"name": "series"},
              "transform": [{"filter": "datum.s === 'k'"}],
              "mark": {"type": "line", "color": "#000000", "strokeWidth": 3.5, "clip": true},
              "encoding": {
                "x": {"field": "d", "type": "quantitative", "scale": {"domain": [-50.3, 48.9], "nice": false, "zero": false},
                  "axis": {"orient": "bottom", "values": [-50,-45,-40,-35,-30,-25,-20,-15,-10,-5,0,5,10,15,20,25,30,35,40,45], "format": "d", "labelExpr": "datum.value % 20 === 0 ? datum.label : ''", "tickSize": {"condition": {"test": "datum.value % 20 === 0", "value": -7}, "value": -4}, "labelPadding": 19, "title": "time - trigger time", "titleBaseline": "alphabetic", "titleY": 65}},
                "y": {"field": "v", "type": "quantitative", "scale": {"domain": [-0.5, 1.5], "nice": false, "zero": false},
                  "axis": {"orient": "left", "values": [-0.5,-0.4,-0.3,-0.2,-0.1,0,0.1,0.2,0.3,0.4,0.5,0.6,0.7,0.8,0.9,1,1.1,1.2,1.3,1.4,1.5], "format": ".1f", "labelExpr": "abs(datum.value*2-round(datum.value*2)) < 0.001 ? datum.label : ''", "tickSize": {"condition": {"test": "abs(datum.value*2-round(datum.value*2)) < 0.001", "value": -8}, "value": -4}, "labelPadding": 16, "title": null}}
              }
            },
            {
              "data": {"name": "series"},
              "transform": [{"filter": "datum.s === 'c'"}],
              "mark": {"type": "line", "color": "#2fb3c9", "strokeWidth": 2, "clip": true},
              "encoding": {
                "x": {"field": "d", "type": "quantitative", "scale": {"domain": [-50.3, 48.9], "nice": false, "zero": false}, "axis": null},
                "y": {"field": "v", "type": "quantitative", "scale": {"domain": [-0.5, 1.5], "nice": false, "zero": false}, "axis": null}
              }
            },
            {
              "data": {"name": "series"},
              "transform": [{"filter": "datum.s === 'g'"}],
              "mark": {"type": "line", "color": "#8284a4", "strokeWidth": 3.5, "clip": true},
              "encoding": {
                "x": {"field": "d", "type": "quantitative", "scale": {"domain": [-50.3, 48.9], "nice": false, "zero": false}, "axis": null},
                "y": {"field": "v", "type": "quantitative", "scale": {"domain": [-0.5, 1.5], "nice": false, "zero": false}, "axis": null}
              }
            },
            {
              "data": {"name": "series"},
              "transform": [{"filter": "datum.s === 'b'"}],
              "mark": {"type": "line", "color": "#1a2dff", "strokeWidth": 3.5, "clip": true},
              "encoding": {
                "x": {"field": "d", "type": "quantitative", "scale": {"domain": [-50.3, 48.9], "nice": false, "zero": false}, "axis": null},
                "y": {"field": "v", "type": "quantitative", "scale": {"domain": [-0.5, 1.5], "nice": false, "zero": false}, "axis": null}
              }
            },
            {
              "data": {"values": [{"d": -37.2, "v": 1.314, "label": "(b)"}]},
              "mark": {"type": "text", "fontSize": 31, "color": "#000000", "align": "center", "baseline": "middle"},
              "encoding": {
                "x": {"field": "d", "type": "quantitative", "scale": {"domain": [-50.3, 48.9], "nice": false, "zero": false},
                  "axis": {"orient": "top", "values": [-50,-45,-40,-35,-30,-25,-20,-15,-10,-5,0,5,10,15,20,25,30,35,40,45], "labels": false, "tickSize": {"condition": {"test": "datum.value % 20 === 0", "value": -7}, "value": -4}, "title": null}},
                "y": {"field": "v", "type": "quantitative", "scale": {"domain": [-0.5, 1.5], "nice": false, "zero": false},
                  "axis": {"orient": "right", "values": [-0.5,-0.4,-0.3,-0.2,-0.1,0,0.1,0.2,0.3,0.4,0.5,0.6,0.7,0.8,0.9,1,1.1,1.2,1.3,1.4,1.5], "labels": false, "tickSize": {"condition": {"test": "abs(datum.value*2-round(datum.value*2)) < 0.001", "value": -8}, "value": -4}, "title": null}},
                "text": {"field": "label"}
              }
            }
          ]
        },
        {
          "width": 287,
          "height": 333,
          "resolve": {"axis": {"x": "independent", "y": "independent"}},
          "layer": [
            {
              "data": {"name": "avg"},
              "mark": {"type": "line", "color": "#000000", "strokeWidth": 2, "clip": true},
              "encoding": {
                "x": {"field": "d", "type": "quantitative", "scale": {"domain": [-50.3, 48.9], "nice": false, "zero": false},
                  "axis": {"orient": "bottom", "values": [-50,-45,-40,-35,-30,-25,-20,-15,-10,-5,0,5,10,15,20,25,30,35,40,45], "format": "d", "labelExpr": "datum.value % 20 === 0 ? datum.label : ''", "tickSize": {"condition": {"test": "datum.value % 20 === 0", "value": -7}, "value": -4}, "labelPadding": 19, "title": "time - trigger time", "titleBaseline": "alphabetic", "titleY": 65}},
                "y": {"field": "v", "type": "quantitative", "scale": {"domain": [-0.5, 1.5], "nice": false, "zero": false},
                  "axis": {"orient": "left", "values": [-0.5,-0.4,-0.3,-0.2,-0.1,0,0.1,0.2,0.3,0.4,0.5,0.6,0.7,0.8,0.9,1,1.1,1.2,1.3,1.4,1.5], "format": ".1f", "labelExpr": "abs(datum.value*2-round(datum.value*2)) < 0.001 ? datum.label : ''", "tickSize": {"condition": {"test": "abs(datum.value*2-round(datum.value*2)) < 0.001", "value": -8}, "value": -4}, "labelPadding": 16, "title": null}}
              }
            },
            {
              "data": {"values": [{"d": -36.1, "v": 1.302, "label": "(c)"}]},
              "mark": {"type": "text", "fontSize": 31, "color": "#000000", "align": "center", "baseline": "middle"},
              "encoding": {
                "x": {"field": "d", "type": "quantitative", "scale": {"domain": [-50.3, 48.9], "nice": false, "zero": false},
                  "axis": {"orient": "top", "values": [-50,-45,-40,-35,-30,-25,-20,-15,-10,-5,0,5,10,15,20,25,30,35,40,45], "labels": false, "tickSize": {"condition": {"test": "datum.value % 20 === 0", "value": -7}, "value": -4}, "title": null}},
                "y": {"field": "v", "type": "quantitative", "scale": {"domain": [-0.5, 1.5], "nice": false, "zero": false},
                  "axis": {"orient": "right", "values": [-0.5,-0.4,-0.3,-0.2,-0.1,0,0.1,0.2,0.3,0.4,0.5,0.6,0.7,0.8,0.9,1,1.1,1.2,1.3,1.4,1.5], "labels": false, "tickSize": {"condition": {"test": "abs(datum.value*2-round(datum.value*2)) < 0.001", "value": -8}, "value": -4}, "title": null}},
                "text": {"field": "label"}
              }
            }
          ]
        }
      ]
    }
  ]
}
